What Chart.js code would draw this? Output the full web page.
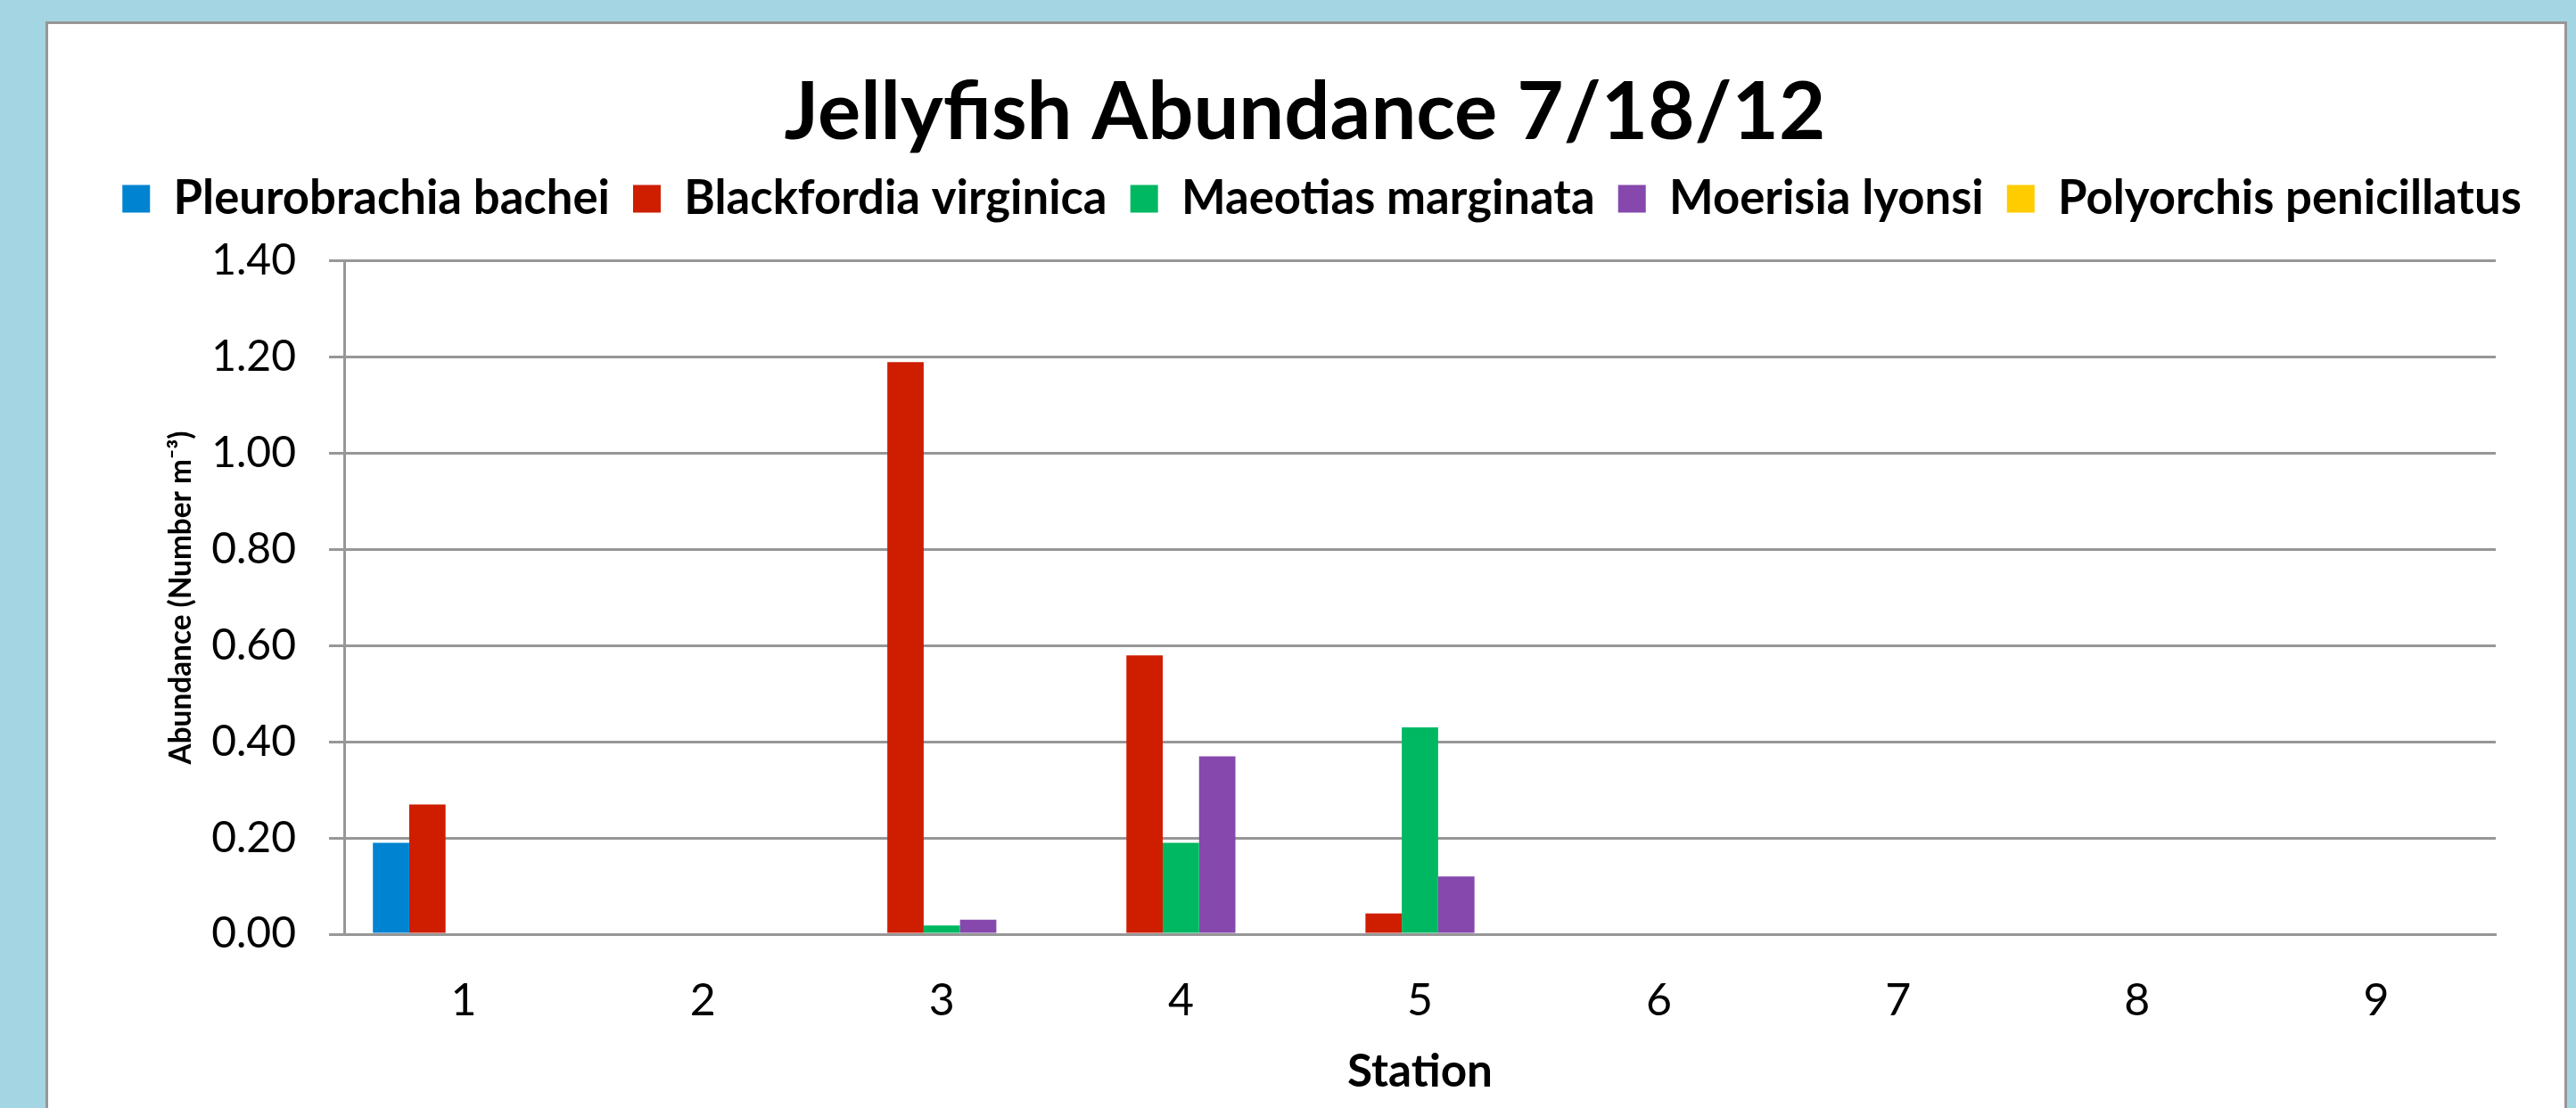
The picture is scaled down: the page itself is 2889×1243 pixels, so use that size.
<!DOCTYPE html>
<html>
<head>
<meta charset="utf-8">
<script src="https://cdn.jsdelivr.net/npm/chart.js@4/dist/chart.umd.min.js"></script>
<style>
  html, body { margin: 0; padding: 0; overflow: hidden; background: #a4d5e3; }
  #panel { position: absolute; left: 51px; top: 24px; width: 2822px; height: 1300px; background: #fff; border: 3px solid #979797; }
  #wrap { position: absolute; left: 0; top: 0; width: 2889px; height: 1243px; }
</style>
</head>
<body>
<div id="panel"></div>
<div id="wrap"><canvas id="myChart"></canvas></div>
<script>
// data (number per m3, per station)
const stations = ['1', '2', '3', '4', '5', '6', '7', '8', '9'];
const species = ['Pleurobrachia bachei', 'Blackfordia virginica', 'Maeotias marginata', 'Moerisia lyonsi', 'Polyorchis penicillatus'];
const pleurobrachia = [0.19, 0, 0, 0, 0, 0, 0, 0, 0];
const blackfordia = [0.27, 0, 1.19, 0.58, 0.043, 0, 0, 0, 0];
const maeotias = [0, 0, 0.018, 0.19, 0.43, 0, 0, 0, 0];
const moerisia = [0, 0, 0.03, 0.37, 0.12, 0, 0, 0, 0];
const polyorchis = [0, 0, 0, 0, 0, 0, 0, 0, 0];
const yTicks = [0, 0.2, 0.4, 0.6, 0.8, 1.0, 1.2, 1.4];
const colors = ['#0084d1', '#cf1d00', '#00b862', '#8648ad', '#ffcc00'];

const chartTitle = 'Jellyfish Abundance 7/18/12';
const xTitle = 'Station';
const yTitle = 'Abundance (Number m\u207B\u00B3)';

const FONT = 'Lato';
const GRID = '#979797';

// pick a font size so the text comes out at the width it has in the picture
function fitSize(texts, weight, target) {
  const ctx = document.createElement('canvas').getContext('2d');
  ctx.font = weight + ' 100px ' + FONT;
  let w = 0;
  texts.forEach(t => { w += ctx.measureText(t).width; });
  return 100 * target / w;
}

const titleSize = fitSize([chartTitle], 'bold', 1168);
const legendSize = fitSize(species, 'bold', 2300);
const xTitleSize = fitSize([xTitle], 'bold', 163);
const yTitleSize = fitSize([yTitle], 'bold', 374);
const tickSize = 48;

// vertical layout targets
const plotTop = 293, plotBottom = 1048, plotLeft = 386, plotRight = 2799;
const legendBox = 31;
const itemH = Math.max(legendBox, legendSize);
const legendPad = Math.max(8, (2691 - 5 * legendBox - 2.5 * legendSize - 2300) / 4);
const titleLH = 0.8;
const titleTop = 127 - titleSize * titleLH / 2;
const titleBottomPad = Math.max(0, (223 - legendPad - itemH / 2) - (127 + titleSize * titleLH / 2));
const spacer = Math.max(1, plotTop - (223 + itemH / 2 + 10));

const datasets = [pleurobrachia, blackfordia, maeotias, moerisia, polyorchis].map((vals, i) => ({
  label: species[i],
  data: vals,
  backgroundColor: colors[i],
  borderWidth: 0,
  categoryPercentage: 0.76,
  barPercentage: 1.0
}));

// the legend in the picture sits a little right of the title's centre
const legendNudge = {
  id: 'legendNudge',
  afterLayout(chart) {
    chart.legend.left += 19;
    chart.legend.right += 19;
  }
};

const chart = new Chart(document.querySelector('#myChart'), {
  type: 'bar',
  data: { labels: stations, datasets: datasets },
  plugins: [legendNudge],
  options: {
    responsive: true,
    maintainAspectRatio: false,
    animation: false,
    layout: { padding: { top: 0, left: 52, right: 14, bottom: 0 } },
    plugins: {
      tooltip: { enabled: false },
      title: {
        display: true,
        text: chartTitle,
        color: '#000',
        font: { family: FONT, size: titleSize, weight: 'bold', lineHeight: titleLH },
        padding: { top: titleTop, bottom: titleBottomPad }
      },
      legend: {
        display: true,
        position: 'top',
        labels: {
          color: '#000',
          boxWidth: legendBox,
          boxHeight: legendBox,
          padding: legendPad,
          font: { family: FONT, size: legendSize, weight: 'bold' }
        }
      },
      // empty block that keeps the gap between the legend and the plot
      subtitle: {
        display: true,
        text: '',
        weight: 500,
        font: { size: 1, lineHeight: 1 },
        padding: { top: spacer - 1, bottom: 0 }
      }
    },
    scales: {
      x: {
        grid: { display: false, drawTicks: false },
        border: { display: true, color: GRID, width: 3 },
        ticks: { color: '#000', padding: 45, font: { family: FONT, size: 50 } },
        title: {
          display: true,
          text: xTitle,
          color: '#000',
          font: { family: FONT, size: xTitleSize, weight: 'bold' },
          padding: { top: 0, bottom: Math.max(0, 41 - xTitleSize * 0.6) }
        },
        afterFit: s => { s.height = 1243 - plotBottom; }
      },
      y: {
        min: 0,
        max: 1.4,
        grid: { color: GRID, lineWidth: 3, tickLength: 17, drawTicks: true },
        border: { display: true, color: GRID, width: 3 },
        ticks: {
          color: '#000',
          padding: 37,
          font: { family: FONT, size: tickSize },
          callback: v => v.toFixed(2)
        },
        afterBuildTicks: s => { s.ticks = yTicks.map(v => ({ value: v })); },
        title: {
          display: true,
          text: yTitle,
          color: '#000',
          font: { family: FONT, size: yTitleSize, weight: 'bold' },
          padding: { top: 203 - 52 - yTitleSize * 0.6, bottom: 0 }
        },
        afterFit: s => { s.width = plotLeft - 52; }
      },
      // blank axis on the right, only to hold the space after the plot
      yRight: {
        position: 'right',
        display: true,
        grid: { display: false, drawTicks: false },
        border: { display: false },
        ticks: { display: false },
        afterFit: s => { s.width = 2875 - plotRight; }
      }
    }
  }
});
</script>
</body>
</html>
